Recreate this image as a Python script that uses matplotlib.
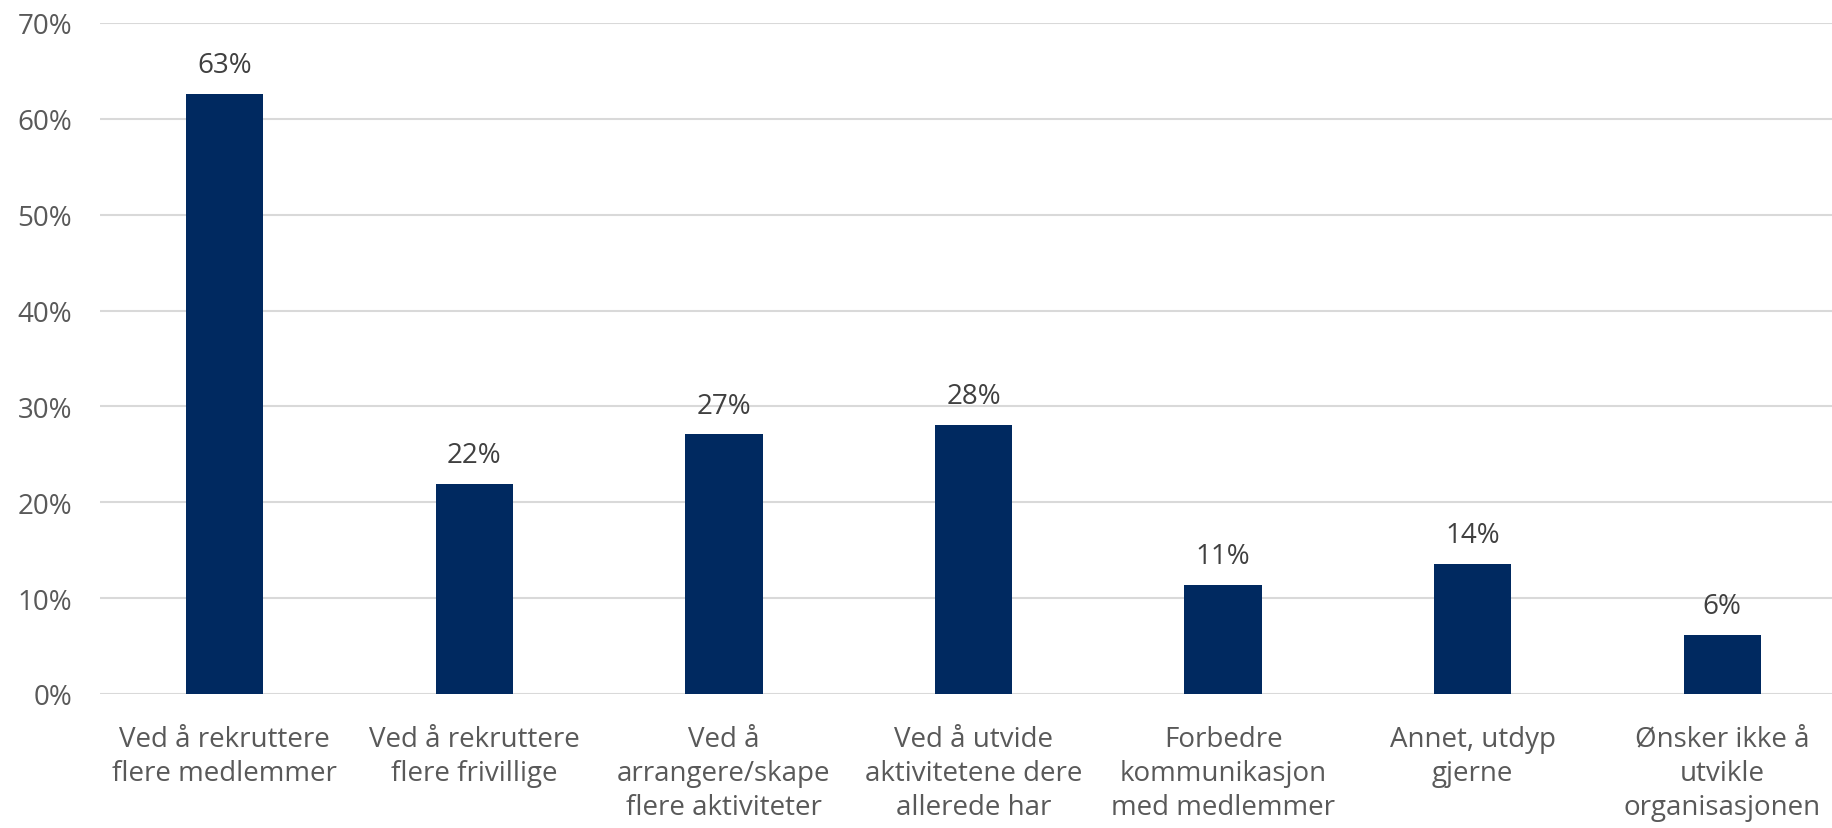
"""Bar chart: how the organisation wants to develop."""

import matplotlib.pyplot as plt
from matplotlib.ticker import FuncFormatter

categories = [
    "Ved å rekruttere\nflere medlemmer",
    "Ved å rekruttere\nflere frivillige",
    "Ved å\narrangere/skape\nflere aktiviteter",
    "Ved å utvide\naktivitetene dere\nallerede har",
    "Forbedre\nkommunikasjon\nmed medlemmer",
    "Annet, utdyp\ngjerne",
    "Ønsker ikke å\nutvikle\norganisasjonen",
]
values = [62.6, 21.9, 27.1, 28.1, 11.4, 13.6, 6.2]

plt.rcParams["font.family"] = ["Open Sans", "DejaVu Sans"]

fig = plt.figure(figsize=(18.33, 8.29), dpi=100)
ax = fig.add_axes([100 / 1833, 1 - 695 / 829, 1747 / 1833, (695 - 24) / 829])

x = range(len(categories))
bars = ax.bar(x, values, width=0.31, color="#002960", zorder=3)
for rect, v in zip(bars, values):
    ax.annotate(
        f"{v:.0f}%",
        (rect.get_x() + rect.get_width() / 2, v),
        xytext=(0, 10.5),
        textcoords="offset points",
        ha="center",
        va="bottom",
        fontsize=20,
        color="#404040",
    )

ax.set_xlim(-0.5, len(categories) - 0.5)
ax.set_ylim(0, 70)
ax.set_yticks(range(0, 71, 10))
ax.yaxis.set_major_formatter(FuncFormatter(lambda v, _: f"{v:.0f}%"))
ax.set_xticks(list(x))
ax.set_xticklabels(categories, linespacing=1.3)
ax.tick_params(axis="both", length=0, labelsize=20, labelcolor="#595959")
ax.tick_params(axis="y", pad=20)
ax.tick_params(axis="x", pad=22)
ax.grid(axis="y", color="#D9D9D9", linewidth=1.5, zorder=0)
for s in ax.spines.values():
    s.set_visible(False)

fig.savefig("out.png", dpi=100)
